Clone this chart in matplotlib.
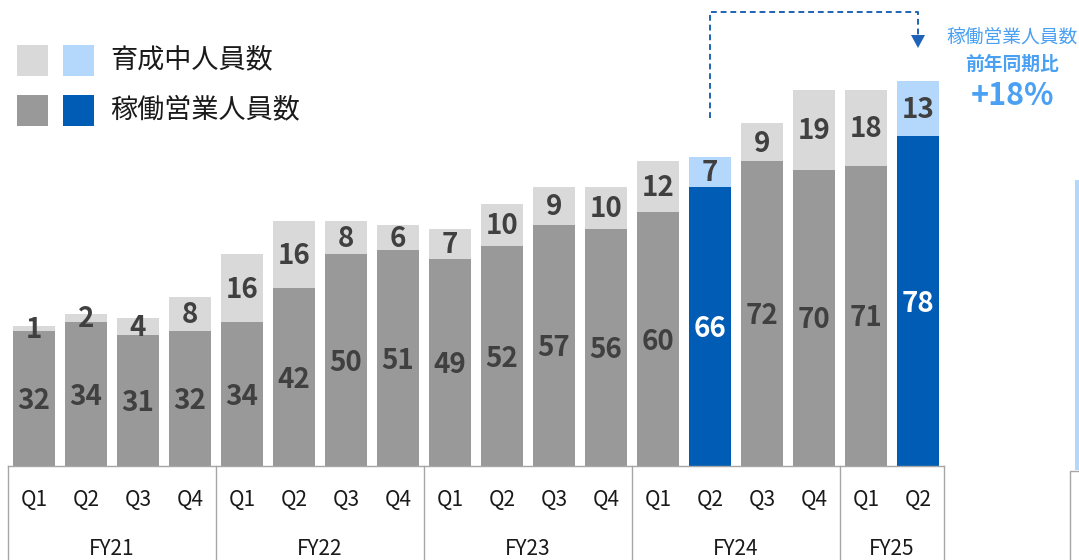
import matplotlib.pyplot as plt
import matplotlib.patches as patches

plt.rcParams['font.family'] = ['Noto Sans CJK JP', 'DejaVu Sans']

# data
quarters = ['Q1', 'Q2', 'Q3', 'Q4'] * 4 + ['Q1', 'Q2']
fiscal_years = ['FY21', 'FY22', 'FY23', 'FY24', 'FY25']
fy_sizes = [4, 4, 4, 4, 2]
active = [32, 34, 31, 32, 34, 42, 50, 51, 49, 52, 57, 56, 60, 66, 72, 70, 71, 78]
training = [1, 2, 4, 8, 16, 16, 8, 6, 7, 10, 9, 10, 12, 7, 9, 19, 18, 13]
highlight = [13, 17]

GRAY_L = '#d9d9d9'
GRAY_D = '#999999'
BLUE_L = '#b4d8fc'
BLUE_D = '#005cb5'
LBL = '#404040'

W, H = 1079, 560
PITCH = 52.0
PX_UNIT = 4.23
X0 = 8  # left edge of table in px
BASE = 466  # baseline in px from top


def px_x(px):
    return -0.5 + (px - X0) / PITCH


def px_y(py):
    return (BASE - py) / PX_UNIT


fig = plt.figure(figsize=(W / 100, H / 100), dpi=100)
ax = fig.add_axes([0, 0, 1, 1])
ax.set_xlim(px_x(0), px_x(W))
ax.set_ylim(px_y(H), px_y(0))
ax.axis('off')

n = len(active)
xs = list(range(n))
c_bot = [BLUE_D if i in highlight else GRAY_D for i in xs]
c_top = [BLUE_L if i in highlight else GRAY_L for i in xs]
ax.bar(xs, active, width=0.79, color=c_bot, linewidth=0)
ax.bar(xs, training, bottom=active, width=0.79, color=c_top, linewidth=0)

for i in xs:
    col = 'white' if i in highlight else LBL
    ax.text(i, active[i] / 2 - 0.6, str(active[i]), ha='center', va='center',
            fontsize=20, fontweight='bold', color=col)
    ax.text(i, active[i] + training[i] / 2 - 0.3, str(training[i]), ha='center',
            va='center', fontsize=20, fontweight='bold', color=LBL)

# category table under the bars
line_kw = dict(color='#a6a6a6', lw=1, clip_on=False)
ax.plot([-0.5, n - 0.5], [0, 0], **line_kw)
edges = [-0.5]
for s in fy_sizes:
    edges.append(edges[-1] + s)
for e in edges:
    ax.plot([e, e], [0, px_y(H + 5)], **line_kw)
for i, q in enumerate(quarters):
    ax.text(i, px_y(500), q, ha='center', va='center', fontsize=15, color='#1a1a1a')
for k, fy in enumerate(fiscal_years):
    ax.text((edges[k] + edges[k + 1]) / 2, px_y(549), fy, ha='center',
            va='center', fontsize=15, color='#1a1a1a')

# legend
for row, (lab, ca, cb) in enumerate([('育成中人員数', GRAY_L, BLUE_L),
                                     ('稼働営業人員数', GRAY_D, BLUE_D)]):
    ytop = 45 + row * 50
    for xl, c in [(17, ca), (63, cb)]:
        ax.add_patch(patches.Rectangle((px_x(xl), px_y(ytop + 31)), 31 / PITCH,
                                       31 / PX_UNIT, color=c, lw=0))
    ax.text(px_x(110), px_y(ytop + 15), lab, ha='left', va='center',
            fontsize=19.5, color='#1a1a1a')

# dashed arrow from FY24 Q2 to FY25 Q2
arrow_c = '#1f63b6'
ax.plot([13, 13, 17, 17], [px_y(118), px_y(12), px_y(12), px_y(36)],
        color=arrow_c, lw=1.4, ls=(0, (3, 2)))
ax.add_patch(patches.Polygon([(17 - 7 / PITCH, px_y(35)), (17 + 7 / PITCH, px_y(35)),
                              (17, px_y(48))], color=arrow_c, lw=0))

note_c = '#4aa0f2'
xc = px_x(1012)
ax.text(xc, px_y(37), '稼働営業人員数', ha='center', va='center', fontsize=13.5, color=note_c)
ax.text(xc, px_y(64), '前年同期比', ha='center', va='center', fontsize=13.5,
        fontweight='bold', color=note_c)
ax.text(xc, px_y(96), '+18%', ha='center', va='center', fontsize=22,
        fontweight='bold', color=note_c)

# edge of neighbouring panel
ax.add_patch(patches.Rectangle((px_x(1075), px_y(470)), 10 / PITCH, 290 / PX_UNIT,
                               color=BLUE_L, lw=0))
ax.plot([px_x(1070), px_x(1070), px_x(1080)], [px_y(H + 5), px_y(471), px_y(471)],
        color='#a6a6a6', lw=1)

fig.savefig('out.png', dpi=100)
